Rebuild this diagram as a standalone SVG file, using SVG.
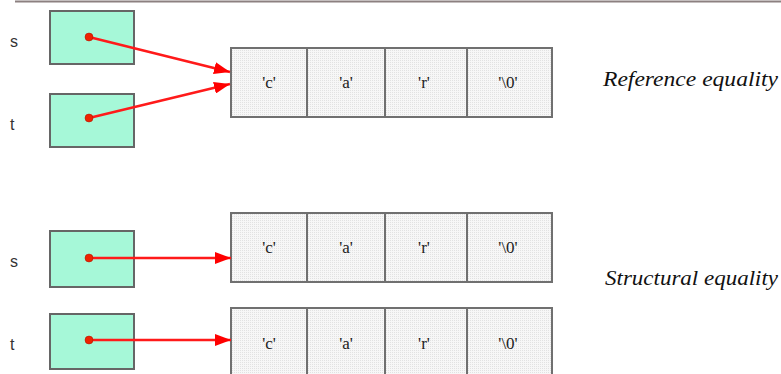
<svg xmlns="http://www.w3.org/2000/svg" width="781" height="374" viewBox="0 0 781 374">
<defs>
<pattern id="dots" width="2" height="2" patternUnits="userSpaceOnUse">
<rect width="2" height="2" fill="#f7f7f7"/>
<rect width="1" height="1" fill="#e2e2e2"/>
</pattern>
<marker id="ah" markerWidth="16" markerHeight="12" refX="16" refY="6" orient="auto" markerUnits="userSpaceOnUse">
<path d="M0,0 L16,6 L0,12 Z" fill="#ff0000"/>
</marker>
</defs>
<style>
.var{fill:#a6f8d8;stroke:#666;stroke-width:2}
.cell{fill:url(#dots);stroke:#707070;stroke-width:2}
.lab{font-family:"Liberation Sans",Arial,sans-serif;font-size:16px;fill:#333}
.ch{font-family:"Liberation Serif","Times New Roman",serif;font-size:17px;fill:#222;text-anchor:middle}
.cap{font-family:"Liberation Serif","Times New Roman",serif;font-style:italic;font-size:20px;fill:#111}
.ptr{stroke:#ff1a1a;stroke-width:2.5;fill:none}
.dot{fill:#ee2200;stroke:#aa1100;stroke-width:0.5}
</style>
<line x1="15" y1="1.5" x2="781" y2="1.5" stroke="#8c8080" stroke-width="2"/>

<g id="label-s1"><text class="lab" x="10" y="47">s</text></g>
<g id="label-t1"><text class="lab" x="10" y="130">t</text></g>
<g id="label-s2"><text class="lab" x="10" y="267">s</text></g>
<g id="label-t2"><text class="lab" x="10" y="350">t</text></g>

<g id="var-s1"><rect class="var" x="50" y="11" width="84" height="53"/></g>
<g id="var-t1"><rect class="var" x="50" y="94" width="84" height="53"/></g>
<g id="var-s2"><rect class="var" x="50" y="231" width="84" height="56"/></g>
<g id="var-t2"><rect class="var" x="50" y="314" width="84" height="55"/></g>

<g id="array-ref">
<rect class="cell" x="231" y="48" width="76" height="69"/>
<rect class="cell" x="307" y="48" width="78" height="69"/>
<rect class="cell" x="385" y="48" width="82" height="69"/>
<rect class="cell" x="467" y="48" width="85" height="69"/>
<text class="ch" x="269" y="88">'c'</text>
<text class="ch" x="346" y="88">'a'</text>
<text class="ch" x="424" y="88">'r'</text>
<text class="ch" x="508" y="88">'\0'</text>
</g>

<g id="array-s">
<rect class="cell" x="231" y="213" width="76" height="69"/>
<rect class="cell" x="307" y="213" width="78" height="69"/>
<rect class="cell" x="385" y="213" width="82" height="69"/>
<rect class="cell" x="467" y="213" width="85" height="69"/>
<text class="ch" x="269" y="253">'c'</text>
<text class="ch" x="346" y="253">'a'</text>
<text class="ch" x="424" y="253">'r'</text>
<text class="ch" x="508" y="253">'\0'</text>
</g>

<g id="array-t">
<rect class="cell" x="231" y="308" width="76" height="72"/>
<rect class="cell" x="307" y="308" width="78" height="72"/>
<rect class="cell" x="385" y="308" width="82" height="72"/>
<rect class="cell" x="467" y="308" width="85" height="72"/>
<text class="ch" x="269" y="349">'c'</text>
<text class="ch" x="346" y="349">'a'</text>
<text class="ch" x="424" y="349">'r'</text>
<text class="ch" x="508" y="349">'\0'</text>
</g>

<g id="caption-ref"><text class="cap" x="603" y="86" textLength="175" lengthAdjust="spacingAndGlyphs">Reference equality</text></g>
<g id="caption-struct"><text class="cap" x="605" y="285" textLength="173" lengthAdjust="spacingAndGlyphs">Structural equality</text></g>

<g id="connectors">
<line class="ptr" x1="89" y1="37" x2="230" y2="72" marker-end="url(#ah)"/>
<line class="ptr" x1="89" y1="118" x2="230" y2="84" marker-end="url(#ah)"/>
<line class="ptr" x1="89" y1="258" x2="231" y2="258" marker-end="url(#ah)"/>
<line class="ptr" x1="89" y1="340" x2="231" y2="340" marker-end="url(#ah)"/>
<circle class="dot" cx="89" cy="37" r="4"/>
<circle class="dot" cx="89" cy="118" r="4"/>
<circle class="dot" cx="89" cy="258" r="4"/>
<circle class="dot" cx="89" cy="340" r="4"/>
</g>
</svg>
